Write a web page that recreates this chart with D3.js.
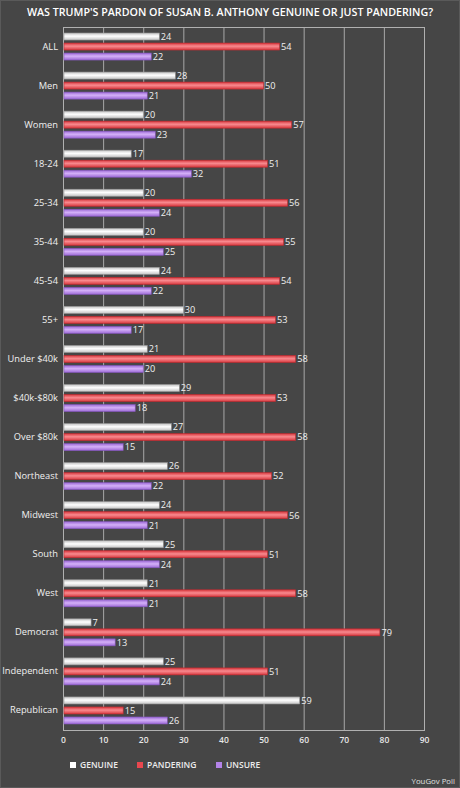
<!DOCTYPE html>
<html>
<head>
<meta charset="utf-8">
<script src="https://cdn.jsdelivr.net/npm/d3@7"></script>
<style>
  html, body { margin: 0; padding: 0; background: #464646; }
  svg { display: block; font-family: "Open Sans", sans-serif; }
</style>
</head>
<body>
<script>
// poll groups, top to bottom
const groups = ['ALL', 'Men', 'Women', '18-24', '25-34', '35-44', '45-54', '55+',
  'Under $40k', '$40k-$80k', 'Over $80k', 'Northeast', 'Midwest', 'South', 'West',
  'Democrat', 'Independent', 'Republican']

const genuine   = [24, 28, 20, 17, 20, 20, 24, 30, 21, 29, 27, 26, 24, 25, 21, 7, 25, 59]
const pandering = [54, 50, 57, 51, 56, 55, 54, 53, 58, 53, 58, 52, 56, 51, 58, 79, 51, 15]
const unsure    = [22, 21, 23, 32, 24, 25, 22, 17, 20, 18, 15, 22, 21, 24, 21, 13, 24, 26]

const seriesNames = ['GENUINE', 'PANDERING', 'UNSURE']
const xTicks = [0, 10, 20, 30, 40, 50, 60, 70, 80, 90]

const W = 460, H = 788
const margin = { top: 27, right: 36, bottom: 58, left: 63 }

const series = [
  { name: seriesNames[0], values: genuine,   edge: '#c4c4c4', mid: '#ffffff', stroke: '#9a9a9a', key: '#ffffff' },
  { name: seriesNames[1], values: pandering, edge: '#d8383e', mid: '#f88a8f', stroke: '#c02a30', key: '#e8474f' },
  { name: seriesNames[2], values: unsure,    edge: '#9c69d6', mid: '#d4b0f8', stroke: '#8557be', key: '#b383e8' }
]

const svg = d3.select('body').append('svg')
  .attr('width', W)
  .attr('height', H)

svg.append('rect')
  .attr('x', 0.5).attr('y', 0.5)
  .attr('width', W - 1).attr('height', H - 1)
  .attr('fill', '#464646')
  .attr('stroke', '#5a5a5a')

const defs = svg.append('defs')
series.forEach((s, i) => {
  let g = defs.append('linearGradient')
    .attr('id', 'grad' + i)
    .attr('x1', 0).attr('y1', 0).attr('x2', 0).attr('y2', 1)
  g.append('stop').attr('offset', '0%').attr('stop-color', s.edge)
  g.append('stop').attr('offset', '45%').attr('stop-color', s.mid)
  g.append('stop').attr('offset', '100%').attr('stop-color', s.edge)
})

const x = d3.scaleLinear()
  .domain([0, 90])
  .range([margin.left, W - margin.right])

const y = d3.scaleBand()
  .domain(groups)
  .range([margin.top, H - margin.bottom])

const inner = d3.scaleBand()
  .domain(seriesNames)
  .range([0, y.bandwidth()])
  .paddingInner(0.3)
  .paddingOuter(0.6)

svg.append('text')
  .attr('x', W / 2)
  .attr('y', 16)
  .attr('text-anchor', 'middle')
  .attr('fill', '#ffffff')
  .attr('font-size', 10.7)
  .attr('font-weight', 600)
  .text("WAS TRUMP'S PARDON OF SUSAN B. ANTHONY GENUINE OR JUST PANDERING?")

// grid lines
svg.append('g')
  .selectAll('line')
  .data(xTicks.slice(1))
  .join('line')
  .attr('x1', d => x(d) + 0.5)
  .attr('x2', d => x(d) + 0.5)
  .attr('y1', margin.top)
  .attr('y2', H - margin.bottom)
  .attr('stroke', '#a8a8a8')
  .attr('stroke-width', 1)

// plot frame
svg.append('rect')
  .attr('x', x(0) + 0.5)
  .attr('y', margin.top + 0.5)
  .attr('width', x(90) - x(0))
  .attr('height', H - margin.bottom - margin.top)
  .attr('fill', 'none')
  .attr('stroke', '#b0b0b0')

// bars
series.forEach((s, i) => {
  let g = svg.append('g')
  g.selectAll('rect')
    .data(s.values)
    .join('rect')
    .attr('x', x(0) + 1)
    .attr('y', (d, j) => y(groups[j]) + inner(s.name))
    .attr('width', d => x(d) - x(0) - 1)
    .attr('height', inner.bandwidth())
    .attr('fill', `url(#grad${i})`)
    .attr('stroke', s.stroke)
    .attr('stroke-width', 0.6)

  g.selectAll('text')
    .data(s.values)
    .join('text')
    .attr('x', d => x(d) + 1.5)
    .attr('y', (d, j) => y(groups[j]) + inner(s.name) + inner.bandwidth() / 2)
    .attr('dy', '0.36em')
    .attr('fill', '#f0f0f0')
    .attr('font-size', 9.2)
    .text(d => d)
})

// category labels
const yAxis = svg.append('g')
  .attr('transform', `translate(${x(0)},0)`)
  .call(d3.axisLeft(y).tickSize(0).tickPadding(5))
yAxis.select('.domain').remove()
yAxis.selectAll('text')
  .attr('fill', '#f0f0f0')
  .attr('font-size', 9.3)
  .attr('font-family', '"Open Sans", sans-serif')

// x axis labels
const xAxis = svg.append('g')
  .attr('transform', `translate(0,${H - margin.bottom})`)
  .call(d3.axisBottom(x).tickValues(xTicks).tickSize(0).tickPadding(7))
xAxis.select('.domain').remove()
xAxis.selectAll('text')
  .attr('fill', '#e8e8e8')
  .attr('font-size', 8.5)
  .attr('font-weight', 600)
  .attr('font-family', '"Open Sans", sans-serif')

// legend
const legendX = [70, 137, 216]
const legend = svg.append('g')
series.forEach((s, i) => {
  let lg = legend.append('g').attr('transform', `translate(${legendX[i]},765)`)
  lg.append('rect')
    .attr('x', 0).attr('y', -3)
    .attr('width', 6).attr('height', 6)
    .attr('fill', s.key)
  lg.append('text')
    .attr('x', 10)
    .attr('y', 0)
    .attr('dy', '0.36em')
    .attr('fill', '#ececec')
    .attr('font-size', 8.5)
    .attr('font-weight', 600)
    .text(s.name)
})

svg.append('text')
  .attr('x', W - 5)
  .attr('y', 784)
  .attr('text-anchor', 'end')
  .attr('fill', '#e0e0e0')
  .attr('font-size', 7.8)
  .text('YouGov Poll')
</script>
</body>
</html>
